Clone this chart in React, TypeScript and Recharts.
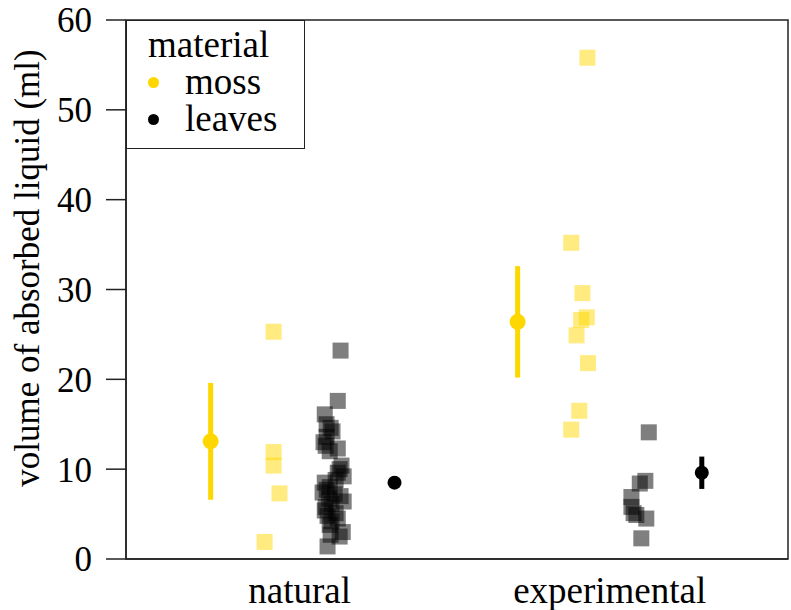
import {
  ErrorBar,
  Legend,
  ReferenceArea,
  Scatter,
  ScatterChart,
  XAxis,
  YAxis,
} from "recharts";

const categories = ["natural", "experimental"];
const yTicks = [0, 10, 20, 30, 40, 50, 60];
const yLabel = "volume of absorbed liquid (ml)";

const materials = [
  { name: "moss", color: "#FFD700" },
  { name: "leaves", color: "#000000" },
];

// raw observations: value + horizontal jitter (offset from category centre)
const mossNaturalY = [25.3, 11.9, 10.4, 7.3, 1.9];
const mossNaturalJitter = [-0.084, -0.084, -0.084, -0.065, -0.113];

const leavesNaturalY = [
  23.2, 17.6, 16.1, 15.0, 14.6, 14.2, 13.6, 13.0, 12.6, 12.3, 12.0, 10.4,
  10.0, 9.6, 9.2, 8.8, 8.5, 8.0, 7.7, 7.4, 7.2, 7.0, 6.7, 6.4, 6.1, 5.8, 5.4,
  5.1, 4.8, 4.5, 4.2, 3.8, 3.0, 2.7, 2.5, 1.4,
];
const leavesNaturalJitter = [
  0.132, 0.123, 0.081, 0.087, 0.1, 0.106, 0.087, 0.077, 0.084, 0.123, 0.097,
  0.135, 0.129, 0.123, 0.142, 0.116, 0.081, 0.097, 0.087, 0.074, 0.113, 0.132,
  0.094, 0.142, 0.103, 0.084, 0.081, 0.116, 0.09, 0.123, 0.103, 0.097, 0.139,
  0.1, 0.129, 0.09,
];

const mossExperimentalY = [55.8, 35.2, 29.6, 26.9, 26.6, 24.9, 21.8, 16.5, 14.4];
const mossExperimentalJitter = [
  -0.072, -0.124, -0.088, -0.074, -0.092, -0.107, -0.07, -0.098, -0.124,
];

const leavesExperimentalY = [14.1, 8.7, 8.4, 6.9, 5.8, 5.1, 4.9, 4.5, 2.3];
const leavesExperimentalJitter = [
  0.126, 0.115, 0.097, 0.07, 0.07, 0.077, 0.086, 0.118, 0.102,
];

// summaries (mean +/- error) per category
const mossMean = [13.1, 26.4];
const mossErr = [6.5, 6.2];
const mossOffset = [-0.287, -0.297];
const leavesMean = [8.5, 9.6];
const leavesErr = [0.7, 1.8];
const leavesOffset = [0.306, 0.297];

const toPoints = (cat: number, ys: number[], jitter: number[]) =>
  ys.map((y, i) => ({ x: cat + 1 + jitter[i], y }));

const mossPoints = [
  ...toPoints(0, mossNaturalY, mossNaturalJitter),
  ...toPoints(1, mossExperimentalY, mossExperimentalJitter),
];
const leavesPoints = [
  ...toPoints(0, leavesNaturalY, leavesNaturalJitter),
  ...toPoints(1, leavesExperimentalY, leavesExperimentalJitter),
];
const mossSummary = categories.map((_, i) => ({
  x: i + 1 + mossOffset[i],
  y: mossMean[i],
  err: mossErr[i],
}));
const leavesSummary = categories.map((_, i) => ({
  x: i + 1 + leavesOffset[i],
  y: leavesMean[i],
  err: leavesErr[i],
}));

const FONT = "'Liberation Serif', 'Times New Roman', serif";
const X_DOMAIN: [number, number] = [0.44, 2.575];

const squareShape = (color: string) => (props: any) => (
  <rect
    x={props.cx - 8}
    y={props.cy - 8}
    width={16}
    height={16}
    fill={color}
    fillOpacity={0.5}
  />
);

const dotShape = (color: string, r: number) => (props: any) => (
  <circle cx={props.cx} cy={props.cy} r={r} fill={color} />
);

function LegendBox() {
  return (
    <div
      style={{
        boxSizing: "border-box",
        width: 179,
        height: 129,
        border: "1.5px solid #222",
        background: "#fff",
        fontFamily: FONT,
        fontSize: 37,
        lineHeight: "37px",
        color: "#000",
        padding: "5px 0 0 21px",
      }}
    >
      <div>material</div>
      {materials.map((m) => (
        <div key={m.name} style={{ display: "flex", alignItems: "center" }}>
          <span
            style={{
              display: "inline-block",
              width: 11,
              height: 11,
              borderRadius: "50%",
              background: m.color,
              marginRight: 26,
              marginTop: 2,
            }}
          />
          <span>{m.name}</span>
        </div>
      ))}
    </div>
  );
}

function YLabel() {
  return (
    <text
      x={27}
      y={268}
      transform="rotate(-90 27 268)"
      textAnchor="middle"
      dominantBaseline="central"
      fill="#000"
      fontSize={35}
      fontFamily={FONT}
    >
      {yLabel}
    </text>
  );
}

export default function App() {
  return (
    <div style={{ position: "absolute", left: 0, top: 0, background: "#fff" }}>
      <ScatterChart
        width={791}
        height={610}
        margin={{ top: 20, right: 3, bottom: 0, left: 0 }}
      >
        <ReferenceArea
          x1={X_DOMAIN[0]}
          x2={X_DOMAIN[1]}
          y1={0}
          y2={60}
          fill="none"
          stroke="#222"
          strokeWidth={1.5}
          ifOverflow="extendDomain"
        />
        <XAxis
          type="number"
          dataKey="x"
          domain={X_DOMAIN}
          ticks={[1, 2]}
          tickFormatter={(v: number) => categories[Math.round(v) - 1] ?? ""}
          allowDataOverflow
          height={51}
          tickLine={false}
          tickSize={0}
          tickMargin={18}
          axisLine={{ stroke: "#222", strokeWidth: 1.5 }}
          tick={{ fill: "#000", fontSize: 37, fontFamily: FONT }}
        />
        <YAxis
          type="number"
          dataKey="y"
          domain={[0, 60]}
          ticks={yTicks}
          allowDataOverflow
          width={126}
          tickSize={20}
          tickMargin={14}
          axisLine={{ stroke: "#222", strokeWidth: 1.5 }}
          tickLine={{ stroke: "#222", strokeWidth: 1.5 }}
          tick={{ fill: "#000", fontSize: 35, fontFamily: FONT }}
          label={{ content: () => <YLabel /> }}
        />
        <Legend
          layout="vertical"
          align="center"
          verticalAlign="middle"
          wrapperStyle={{ position: "absolute", left: 126, top: 20, width: "auto" }}
          content={() => <LegendBox />}
        />
        <Scatter
          name="moss"
          data={mossPoints}
          shape={squareShape("#FFD700")}
          isAnimationActive={false}
        />
        <Scatter
          name="leaves"
          data={leavesPoints}
          shape={squareShape("#000000")}
          isAnimationActive={false}
        />
        <Scatter
          name="moss mean"
          data={mossSummary}
          shape={dotShape("#FFD700", 8)}
          isAnimationActive={false}
        >
          <ErrorBar
            dataKey="err"
            direction="y"
            width={0}
            stroke="#FFD700"
            strokeWidth={5}
            isAnimationActive={false}
          />
        </Scatter>
        <Scatter
          name="leaves mean"
          data={leavesSummary}
          shape={dotShape("#000000", 7)}
          isAnimationActive={false}
        >
          <ErrorBar
            dataKey="err"
            direction="y"
            width={0}
            stroke="#000000"
            strokeWidth={5}
            isAnimationActive={false}
          />
        </Scatter>
      </ScatterChart>
    </div>
  );
}
